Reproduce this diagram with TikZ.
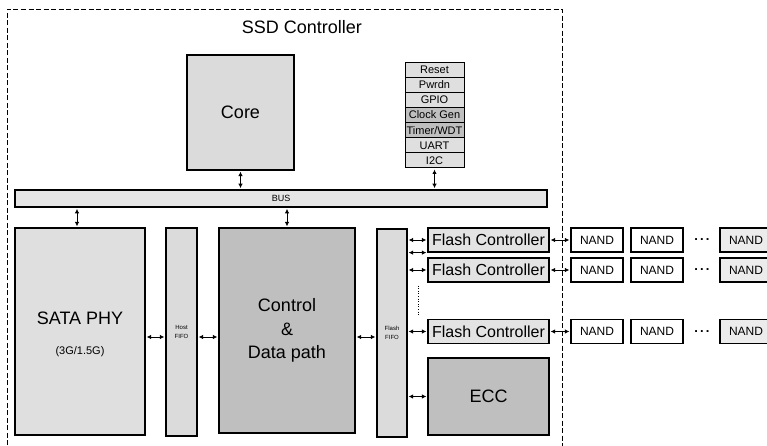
\documentclass[tikz,border=0pt]{standalone}
\usepackage{fontspec}
\setmainfont{Liberation Sans}
\usetikzlibrary{arrows.meta,positioning}

\begin{document}
\begin{tikzpicture}[x=1pt,y=-1pt,>={Latex[length=4.5pt,width=4.5pt]},
  blk/.style={draw,line width=1.2pt,inner sep=0pt,align=center},
  dbl/.style={<->,line width=0.9pt,shorten <=1pt,shorten >=1pt},
  big/.style={font=\fontsize{18}{23.5}\selectfont}]
\useasboundingbox (0,0) rectangle (767,445);
% controller outline
\draw[line width=1pt,dash pattern=on 5pt off 2.5pt] (7,460) -- (7,9) -- (562,9) -- (562,460);
\node[big] (title) at (302,27) {SSD Controller};

% cpu and peripherals
\node[blk,big,fill=gray!28,minimum width=107pt,minimum height=115pt] (core) at (240.5,112.5) {Core};
\foreach \shade/\lbl [count=\i] in {25/Reset,25/Pwrdn,25/GPIO,50/Clock Gen,50/{Timer/WDT},25/UART,25/I2C}
  \node[blk,line width=1pt,fill=gray!\shade,minimum width=59pt,minimum height=15.14pt,
        font=\fontsize{11}{12}\selectfont] (p\i) at (434.5,{62+15.14*(\i-0.5)}) {\lbl};

% system bus
\node[blk,line width=1.6pt,fill=gray!20,minimum width=532pt,minimum height=17pt,
      font=\fontsize{9}{10}\selectfont] (bus) at (281,198.5) {BUS};

% data path
\node[blk,fill=gray!25,minimum width=130pt,minimum height=207pt] (sata) at (80,331.5) {};
\node[big] (sataname) at (80,318) {SATA PHY};
\node[font=\fontsize{11}{12}\selectfont] (satarate) at (80,352) {(3G/1.5G)};
\node[blk,fill=gray!28,minimum width=31pt,minimum height=208pt,
      font=\fontsize{6}{9}\selectfont] (hfifo) at (181.5,332) {Host\\FIFO};
\node[blk,big,fill=gray!50,minimum width=136pt,minimum height=205pt] (control) at (287,330.5) {Control\\\&\\Data path};
\node[blk,fill=gray!28,minimum width=30pt,minimum height=208pt,
      font=\fontsize{6}{9}\selectfont] (ffifo) at (392,333) {Flash\\FIFO};

% flash channels
\foreach \r/\y in {1/240,2/270,3/331.5}{
  \node[blk,fill=gray!22,minimum width=121pt,minimum height=24pt,
        font=\fontsize{16}{18}\selectfont] (fc\r) at (488.5,\y) {Flash Controller};
  \node[blk,fill=white,minimum width=52pt,minimum height=24pt,
        font=\fontsize{12}{14}\selectfont] (n\r1) at (597,\y) {NAND};
  \node[blk,fill=white,minimum width=52pt,minimum height=24pt,
        font=\fontsize{12}{14}\selectfont] (n\r2) at (657,\y) {NAND};
  \node[font=\fontsize{13}{14}\selectfont\bfseries] (d\r) at (702,\y) {.\,.\,.};
  \node[blk,fill=gray!15,minimum width=52pt,minimum height=24pt,
        font=\fontsize{12}{14}\selectfont] (n\r3) at (746,\y) {NAND};
}
\node[blk,big,fill=gray!50,minimum width=121pt,minimum height=77pt] (ecc) at (488.5,396.5) {ECC};

% connections
\coordinate (dp) at (0,337);
\draw[dbl] (core.south) -- (core.south |- bus.north);
\draw[dbl] (p7.south) -- (p7.south |- bus.north);
\draw[dbl] ([xshift=-3pt]sata.north) -- ([xshift=-3pt]sata.north |- bus.south);
\draw[dbl] (control.north) -- (control.north |- bus.south);
\draw[dbl] (sata.east |- dp) -- (hfifo.west |- dp);
\draw[dbl] (hfifo.east |- dp) -- (control.west |- dp);
\draw[dbl] (control.east |- dp) -- (ffifo.west |- dp);
\foreach \r in {1,2,3}{
  \draw[dbl] (ffifo.east |- fc\r) -- (fc\r.west);
  \draw[dbl] (fc\r.east) -- (n\r1.west);
}
\draw[dbl] (ffifo.east |- fc1.south) -- (fc1.south west);
\draw[dbl] (ffifo.east |- ecc) -- (ecc.west);
\draw[dotted,line width=0.6pt] ([xshift=-9pt,yshift=-3pt]fc2.south west) -- ([xshift=-9pt,yshift=3pt]fc3.north west);
\end{tikzpicture}
\end{document}
